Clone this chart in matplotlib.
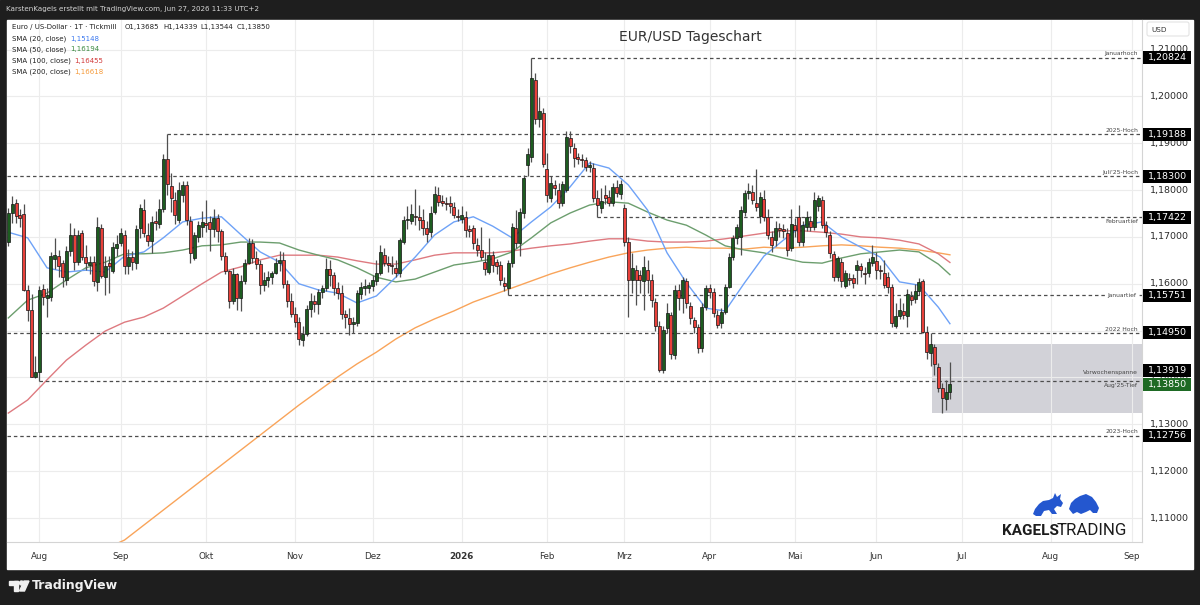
import numpy as np
import matplotlib
matplotlib.use("Agg")
import matplotlib.pyplot as plt
from matplotlib.patches import Rectangle, Polygon, FancyBboxPatch, Circle
import matplotlib.transforms as mtrans

plt.rcParams['font.family'] = ['DejaVu Sans']

# ---------------- data ----------------
first_date = '2025-07-22'

opens = [1.1690,1.1752,1.1772,1.1747,1.1748,1.1587,1.1544,1.1402,1.1412,1.1588,
 1.1569,1.1572,1.1652,1.1659,1.1644,1.1607,1.1670,1.1704,1.1647,1.1708,
 1.1657,1.1640,1.1647,1.1603,1.1720,1.1614,1.1644,1.1628,1.1676,1.1686,
 1.1704,1.1638,1.1658,1.1644,1.1718,1.1757,1.1704,1.1692,1.1735,1.1728,
 1.1760,1.1866,1.1809,1.1779,1.1736,1.1790,1.1811,1.1733,1.1655,1.1699,
 1.1721,1.1730,1.1731,1.1716,1.1740,1.1712,1.1659,1.1627,1.1563,1.1620,
 1.1569,1.1606,1.1645,1.1686,1.1655,1.1642,1.1598,1.1608,1.1615,1.1624,
 1.1645,1.1650,1.1600,1.1563,1.1536,1.1518,1.1481,1.1493,1.1547,1.1563,
 1.1557,1.1582,1.1590,1.1632,1.1618,1.1592,1.1580,1.1536,1.1527,1.1514,
 1.1516,1.1578,1.1590,1.1591,1.1595,1.1605,1.1622,1.1661,1.1644,1.1639,
 1.1633,1.1624,1.1690,1.1736,1.1733,1.1745,1.1743,1.1736,1.1720,1.1711,
 1.1754,1.1790,1.1777,1.1773,1.1772,1.1763,1.1745,1.1738,1.1743,1.1717,
 1.1718,1.1683,1.1672,1.1647,1.1626,1.1661,1.1647,1.1640,1.1601,1.1590,
 1.1644,1.1718,1.1686,1.1750,1.1853,1.1871,1.2035,1.1951,1.1964,1.1846,
 1.1783,1.1811,1.1800,1.1772,1.1800,1.1911,1.1889,1.1870,1.1866,1.1864,
 1.1850,1.1847,1.1782,1.1762,1.1790,1.1786,1.1772,1.1807,1.1791,1.1761,
 1.1690,1.1608,1.1629,1.1619,1.1605,1.1629,1.1608,1.1562,1.1509,1.1416,
 1.1505,1.1533,1.1448,1.1587,1.1569,1.1605,1.1553,1.1522,1.1508,1.1462,
 1.1551,1.1590,1.1583,1.1533,1.1516,1.1540,1.1594,1.1658,1.1697,1.1700,
 1.1754,1.1793,1.1795,1.1773,1.1745,1.1780,1.1743,1.1700,1.1693,1.1718,
 1.1716,1.1708,1.1676,1.1725,1.1743,1.1690,1.1722,1.1733,1.1722,1.1765,
 1.1778,1.1725,1.1704,1.1663,1.1615,1.1647,1.1596,1.1613,1.1612,1.1630,
 1.1637,1.1624,1.1624,1.1644,1.1649,1.1630,1.1622,1.1615,1.1594,1.1509,
 1.1532,1.1541,1.1532,1.1573,1.1567,1.1585,1.1605,1.1498,1.1452,1.1465,
 1.1423,1.1377,1.1355,1.13685]

highs = [1.1761,1.1788,1.1780,1.1760,1.1770,1.1598,1.1578,1.1446,1.1595,1.1600,
 1.1590,1.1667,1.1697,1.1672,1.1650,1.1680,1.1730,1.1718,1.1715,1.1715,
 1.1682,1.1660,1.1660,1.1742,1.1728,1.1660,1.1660,1.1690,1.1705,1.1720,
 1.1715,1.1675,1.1670,1.1725,1.1770,1.1780,1.1730,1.1745,1.1755,1.1780,
 1.1878,1.19188,1.1837,1.1795,1.1818,1.1820,1.1819,1.1745,1.1710,1.1735,
 1.1755,1.1778,1.1745,1.1760,1.1748,1.1716,1.1668,1.1630,1.1633,1.1624,
 1.1618,1.1652,1.1698,1.1695,1.1670,1.1650,1.1625,1.1627,1.1628,1.1654,
 1.1669,1.1668,1.1609,1.1580,1.1550,1.1530,1.1510,1.1555,1.1580,1.1577,
 1.1589,1.1598,1.1655,1.1650,1.1625,1.1604,1.1598,1.1543,1.1548,1.1530,
 1.1586,1.1603,1.1610,1.1603,1.1618,1.1650,1.1682,1.1677,1.1660,1.1660,
 1.1651,1.1698,1.1745,1.1765,1.1770,1.1802,1.1768,1.1760,1.1735,1.1765,
 1.1808,1.1806,1.1790,1.1786,1.1788,1.1775,1.1760,1.1765,1.1755,1.1725,
 1.1726,1.1698,1.1722,1.1668,1.1698,1.1670,1.1652,1.1648,1.1615,1.1650,
 1.1730,1.1758,1.1762,1.1832,1.1890,1.20824,1.2050,1.1998,1.1975,1.1880,
 1.1830,1.1822,1.1815,1.1820,1.1927,1.1927,1.1900,1.1880,1.1878,1.1870,
 1.1862,1.1858,1.1800,1.1805,1.1810,1.1800,1.1815,1.1822,1.1822,1.1770,
 1.1700,1.1665,1.1640,1.1630,1.1660,1.1650,1.1620,1.1570,1.1520,1.1510,
 1.1560,1.1540,1.1597,1.1600,1.1615,1.1612,1.1562,1.1530,1.1515,1.1560,
 1.1598,1.1600,1.1590,1.1545,1.1548,1.1600,1.1665,1.1705,1.1728,1.1765,
 1.1800,1.1815,1.1810,1.1846,1.1795,1.1800,1.1760,1.1712,1.1735,1.1730,
 1.1728,1.1720,1.1760,1.1740,1.1768,1.1735,1.1755,1.1745,1.1795,1.1790,
 1.1788,1.1735,1.1712,1.1670,1.1660,1.1655,1.1630,1.1622,1.1620,1.1650,
 1.1645,1.1635,1.1655,1.1683,1.1668,1.1640,1.1650,1.1625,1.1600,1.1560,
 1.1570,1.1560,1.1588,1.1585,1.1600,1.1613,1.1610,1.1510,1.1495,1.14716,
 1.1430,1.1388,1.1395,1.14339]

lows = [1.1680,1.1730,1.1730,1.1722,1.1585,1.1520,1.1400,1.1398,1.13919,1.1554,
 1.1530,1.1564,1.1632,1.1615,1.1594,1.1598,1.1660,1.1630,1.1640,1.1650,
 1.1630,1.1620,1.1596,1.1584,1.1612,1.1576,1.1580,1.1622,1.1660,1.1680,
 1.1620,1.1620,1.1630,1.1632,1.1697,1.1700,1.1680,1.1665,1.1715,1.1720,
 1.1754,1.1790,1.1754,1.1728,1.1730,1.1775,1.1725,1.1645,1.1650,1.1690,
 1.1700,1.1710,1.1669,1.1700,1.1690,1.1650,1.1620,1.1548,1.1557,1.1545,
 1.1542,1.1600,1.1642,1.1645,1.1632,1.1578,1.1585,1.1593,1.1600,1.1620,
 1.1628,1.1590,1.1550,1.1528,1.1508,1.1469,1.1468,1.1488,1.1530,1.1540,
 1.1535,1.1570,1.1585,1.1595,1.1575,1.1568,1.1525,1.1505,1.1491,1.1495,
 1.1510,1.1568,1.1575,1.1580,1.1585,1.1598,1.1618,1.1638,1.1625,1.1620,
 1.1615,1.1615,1.1685,1.1717,1.1728,1.1725,1.1715,1.1705,1.1690,1.1700,
 1.1748,1.1766,1.1765,1.1758,1.1752,1.1740,1.1735,1.1730,1.1700,1.1700,
 1.1675,1.1660,1.1650,1.1618,1.1620,1.1625,1.1620,1.1598,1.1585,1.15751,
 1.1635,1.1676,1.1660,1.1740,1.1830,1.1860,1.1940,1.1935,1.1850,1.1775,
 1.1775,1.1790,1.1762,1.1765,1.1795,1.1880,1.1850,1.1855,1.1850,1.1840,
 1.1838,1.1775,1.17422,1.1750,1.1770,1.1765,1.1765,1.1785,1.1780,1.1680,
 1.1530,1.1580,1.1555,1.1580,1.1544,1.1580,1.1550,1.1500,1.1412,1.1410,
 1.1495,1.1440,1.1440,1.1545,1.1537,1.1548,1.1515,1.1495,1.1452,1.1455,
 1.1545,1.1570,1.1530,1.1505,1.1505,1.1535,1.1590,1.1650,1.1685,1.1661,
 1.1745,1.1780,1.1770,1.1755,1.1730,1.1735,1.1695,1.1668,1.1680,1.1700,
 1.1698,1.1660,1.1670,1.1700,1.1680,1.1680,1.1712,1.1712,1.1715,1.1755,
 1.1718,1.1700,1.1655,1.1605,1.1605,1.1594,1.1590,1.1598,1.1590,1.1600,
 1.1615,1.1600,1.1615,1.1638,1.1610,1.1610,1.1590,1.1580,1.1508,1.1505,
 1.1525,1.1525,1.1508,1.1555,1.1560,1.1575,1.1495,1.1440,1.1425,1.1405,
 1.1370,1.1324,1.1330,1.13544]

closes = [1.1750,1.1770,1.1745,1.1741,1.1587,1.1544,1.1402,1.1412,1.1587,1.1571,
 1.1577,1.1659,1.1661,1.1638,1.1614,1.1671,1.1704,1.1647,1.1704,1.1658,
 1.1644,1.1647,1.1605,1.1722,1.1617,1.1637,1.1637,1.1679,1.1685,1.1709,
 1.1638,1.1658,1.1647,1.1717,1.1761,1.1708,1.1692,1.1731,1.1730,1.1760,
 1.1866,1.1812,1.1783,1.1747,1.1800,1.1811,1.1736,1.1665,1.1704,1.1726,
 1.1731,1.1726,1.1716,1.1740,1.1712,1.1659,1.1627,1.1563,1.1621,1.1569,
 1.1606,1.1645,1.1686,1.1655,1.1642,1.1598,1.1608,1.1615,1.1624,1.1645,
 1.1650,1.1600,1.1563,1.1536,1.1518,1.1482,1.1493,1.1547,1.1563,1.1557,
 1.1582,1.1590,1.1632,1.1618,1.1592,1.1580,1.1536,1.1528,1.1514,1.1519,
 1.1580,1.1594,1.1596,1.1598,1.1608,1.1622,1.1668,1.1644,1.1640,1.1637,
 1.1624,1.1693,1.1736,1.1738,1.1749,1.1743,1.1736,1.1720,1.1706,1.1750,
 1.1792,1.1775,1.1773,1.1770,1.1766,1.1747,1.1742,1.1747,1.1715,1.1713,
 1.1686,1.1672,1.1658,1.1632,1.1661,1.1640,1.1637,1.1608,1.1596,1.1644,
 1.1722,1.1686,1.1754,1.1825,1.1878,1.2039,1.1951,1.1969,1.1856,1.1789,
 1.1816,1.1804,1.1772,1.1813,1.1914,1.1893,1.1868,1.1866,1.1864,1.1850,
 1.1853,1.1782,1.1768,1.1777,1.1782,1.1772,1.1807,1.1793,1.1813,1.1690,
 1.1608,1.1633,1.1608,1.1608,1.1635,1.1608,1.1565,1.1509,1.1416,1.1502,
 1.1537,1.1451,1.1587,1.1569,1.1608,1.1558,1.1526,1.1508,1.1462,1.1551,
 1.1590,1.1583,1.1537,1.1512,1.1540,1.1594,1.1658,1.1697,1.1722,1.1757,
 1.1793,1.1797,1.1779,1.1764,1.1786,1.1743,1.1704,1.1683,1.1718,1.1715,
 1.1713,1.1672,1.1727,1.1715,1.1690,1.1725,1.1743,1.1722,1.1778,1.1784,
 1.1725,1.1711,1.1665,1.1615,1.1654,1.1605,1.1622,1.1607,1.1601,1.1640,
 1.1630,1.1621,1.1647,1.1658,1.1630,1.1627,1.1597,1.1594,1.1516,1.1532,
 1.1544,1.1534,1.1578,1.1566,1.1585,1.1603,1.1498,1.1455,1.1472,1.1428,
 1.1378,1.1356,1.1369,1.13850]

sma_idx = [0,5,10,15,20,25,30,35,40,45,50,55,60,65,70,75,80,85,90,95,
           100,105,110,115,120,125,130,135,140,145,150,155,160,165,170,175,
           180,185,190,195,200,205,210,215,220,225,230,235,240,243]
sma20 = [1.1710,1.1698,1.1634,1.1625,1.1629,1.1625,1.1659,1.1668,1.1698,1.1732,
         1.1740,1.1743,1.1705,1.1668,1.1646,1.1600,1.1587,1.1580,1.1559,1.1574,
         1.1614,1.1657,1.1704,1.1732,1.1743,1.1723,1.1698,1.1732,1.1764,1.1807,
         1.1858,1.1847,1.1811,1.1757,1.1666,1.1602,1.1548,1.1542,1.1602,1.1659,
         1.1693,1.1725,1.1732,1.1700,1.1678,1.1657,1.1604,1.1597,1.1550,1.15148]
sma50 = [1.1527,1.1565,1.1580,1.1608,1.1634,1.1646,1.1664,1.1664,1.1666,1.1672,
         1.1681,1.1683,1.1689,1.1689,1.1687,1.1672,1.1661,1.1651,1.1634,1.1614,
         1.1604,1.1610,1.1625,1.1640,1.1646,1.1653,1.1668,1.1698,1.1730,1.1751,
         1.1768,1.1775,1.1772,1.1753,1.1736,1.1725,1.1704,1.1681,1.1672,1.1666,
         1.1655,1.1646,1.1644,1.1655,1.1664,1.1668,1.1672,1.1668,1.1642,1.16194]
sma100 = [1.1324,1.1352,1.1395,1.1437,1.1469,1.1499,1.1518,1.1529,1.1548,1.1574,
          1.1600,1.1625,1.1636,1.1651,1.1661,1.1661,1.1661,1.1657,1.1649,1.1642,
          1.1642,1.1651,1.1661,1.1666,1.1666,1.1666,1.1670,1.1676,1.1681,1.1685,
          1.1691,1.1696,1.1696,1.1691,1.1689,1.1689,1.1691,1.1696,1.1702,1.1708,
          1.1713,1.1713,1.1710,1.1706,1.1700,1.1698,1.1693,1.1685,1.1664,1.16455]
sma200 = [1.0904,1.0929,1.0957,1.0985,1.1010,1.1034,1.1053,1.1085,1.1117,1.1149,
          1.1181,1.1213,1.1245,1.1277,1.1309,1.1341,1.1371,1.1401,1.1429,1.1454,
          1.1482,1.1506,1.1525,1.1542,1.1561,1.1576,1.1591,1.1606,1.1621,1.1634,
          1.1646,1.1657,1.1666,1.1672,1.1676,1.1678,1.1676,1.1676,1.1674,1.1678,
          1.1676,1.1678,1.1681,1.1683,1.1681,1.1678,1.1676,1.1672,1.1666,1.16618]

month_labels = ['Aug', 'Sep', 'Okt', 'Nov', 'Dez', '2026', 'Feb', 'Mrz', 'Apr',
                'Mai', 'Jun', 'Jul', 'Aug', 'Sep']
month_dates = ['2025-08-01', '2025-09-01', '2025-10-01', '2025-11-01', '2025-12-01',
               '2026-01-01', '2026-02-01', '2026-03-01', '2026-04-01', '2026-05-01',
               '2026-06-01', '2026-07-01', '2026-08-01', '2026-09-01']

level_names = ['Januarhoch', '2025-Hoch', "Juli'25-Hoch", 'Februartief', 'Januartief',
               '2022 Hoch', "Aug'25-Tief", '2023-Hoch']
level_values = [1.20824, 1.19188, 1.18300, 1.17422, 1.15751, 1.14950, 1.13919, 1.12756]
level_start = [135, 41, None, 152, 129, None, 8, None]
level_text_pos = ['above', 'above', 'above', 'below', 'on', 'above', 'below', 'above']

price_ticks = [1.11, 1.12, 1.13, 1.14, 1.15, 1.16, 1.17, 1.18, 1.19, 1.20, 1.21]
week_start = 239   # first bar of the last week (range box)

title = 'EUR/USD Tageschart'
header = 'KarstenKagels erstellt mit TradingView.com, Jun 27, 2026 11:33 UTC+2'

# ---------------- figure layout ----------------
W, HH = 1200, 605
fig = plt.figure(figsize=(12, 6.05), dpi=100)

def fr(x0, y0, x1, y1):
    return [x0 / W, 1 - y1 / HH, (x1 - x0) / W, (y1 - y0) / HH]

bg = fig.add_axes([0, 0, 1, 1], zorder=0)
bg.set_xlim(0, W); bg.set_ylim(HH, 0); bg.axis('off')
bg.add_patch(Rectangle((0, 0), W, HH, color='#1e1e1e'))
bg.add_patch(Rectangle((7, 20), 1186, 549, color='white'))

PX0, PY0, PX1, PY1 = 7, 20, 1142, 542
ax = fig.add_axes(fr(PX0, PY0, PX1, PY1), zorder=2)
ax.set_facecolor('none')
ylo, yhi = 1.10488, 1.21630
ax.set_ylim(ylo, yhi)
n = len(closes)
xmin, xmax = -0.335, 292.57
ax.set_xlim(xmin, xmax)
ppx = (yhi - ylo) / (PY1 - PY0)   # price per pixel

O = np.array(opens); Hi = np.array(highs); Lo = np.array(lows); C = np.array(closes)
xi = np.arange(n)

# grid
mpos = [int(np.busday_count(first_date, d)) for d in month_dates]
ax.set_xticks(mpos)
ax.set_xticklabels(month_labels)
ax.set_yticks(price_ticks)
ax.set_yticklabels([])
ax.grid(True, color='#ececec', lw=0.8, zorder=0)
ax.tick_params(axis='x', length=0, pad=7.5, labelsize=6.3, labelcolor='#333333')
ax.tick_params(axis='y', length=0)
for t in ax.get_xticklabels():
    if t.get_text() == '2026':
        t.set_fontweight('bold')
for s in ['top', 'left']:
    ax.spines[s].set_visible(False)
ax.spines['bottom'].set_color('#d4d4d4'); ax.spines['bottom'].set_linewidth(0.8)
ax.spines['right'].set_color('#d4d4d4'); ax.spines['right'].set_linewidth(0.8)

# previous-week range box
rlo = min(lows[week_start:]); rhi = max(highs[week_start:])
ax.add_patch(Rectangle((week_start - 0.55, rlo), xmax - week_start + 0.55, rhi - rlo,
                       facecolor='#d2d2d8', edgecolor='none', zorder=1))

# SMAs
ax.plot(sma_idx, sma200, color='#f9a45a', lw=1.0, zorder=2)
ax.plot(sma_idx, sma100, color='#de7a80', lw=1.0, zorder=2)
ax.plot(sma_idx, sma50, color='#6c9e6e', lw=1.0, zorder=2)
ax.plot(sma_idx, sma20, color='#6ea2f7', lw=1.0, zorder=2)

# level lines
dash = (0, (2.8, 2.3))
for name, val, st, pos in zip(level_names, level_values, level_start, level_text_pos):
    x0 = xmin if st is None else st
    ax.hlines(val, x0, xmax, colors='#4d4d4d', linestyles=[dash], lw=0.9, zorder=3)
    tr = ax.get_yaxis_transform()
    xa = 1 - 4.0 / (PX1 - PX0)
    if pos == 'above':
        t = mtrans.offset_copy(tr, fig=fig, x=0, y=1.0, units='points')
        ax.text(xa, val, name, transform=t, ha='right', va='bottom', fontsize=4.3,
                color='#444444', zorder=6)
    elif pos == 'below':
        t = mtrans.offset_copy(tr, fig=fig, x=0, y=-1.5, units='points')
        ax.text(xa, val, name, transform=t, ha='right', va='top', fontsize=4.3,
                color='#444444', zorder=6)
    else:
        ax.text(1 - 6.0 / (PX1 - PX0), val, name, transform=tr, ha='right', va='center',
                fontsize=4.3, color='#444444', zorder=6,
                bbox=dict(facecolor='white', edgecolor='none', pad=0.6))

tmid = mtrans.offset_copy(ax.get_yaxis_transform(), fig=fig, x=0, y=4.5, units='points')
ax.text(1 - 4.0 / (PX1 - PX0), (rlo + rhi) / 2, 'Vorwochenspanne', transform=tmid,
        ha='right', va='center', fontsize=4.3, color='#444444', zorder=6)

# candles
up = C >= O
ax.vlines(xi, Lo, Hi, color='#4f4f4f', lw=0.9, zorder=4)
bw = 0.76
ax.bar(xi[up], np.maximum(C - O, 0.00004)[up], bottom=O[up], width=bw, color='#1d5c20',
       edgecolor='#141414', lw=0.5, zorder=5)
ax.bar(xi[~up], np.maximum(O - C, 0.00004)[~up], bottom=C[~up], width=bw, color='#e8403a',
       edgecolor='#141414', lw=0.5, zorder=5)

# ---------------- price axis panel ----------------
axp = fig.add_axes(fr(PX1, PY0, 1193, PY1), zorder=2)
axp.set_facecolor('none')
axp.set_ylim(ylo, yhi); axp.set_xlim(0, 51)
axp.axis('off')

def fmt(v):
    return f'{v:.5f}'.replace('.', ',')

for p in price_ticks:
    axp.text(8, p, fmt(p), fontsize=6.8, color='#2a2a2a', va='center', ha='left')

hb = 6.5 * ppx
box_vals = list(level_values)
box_pos = list(level_values)
box_pos[level_names.index("Aug'25-Tief")] = level_values[level_names.index("Aug'25-Tief")] + 11 * ppx
for v, yp in zip(box_vals, box_pos):
    axp.add_patch(Rectangle((1, yp - hb), 48, 2 * hb, facecolor='black', edgecolor='none', zorder=3))
    axp.text(6, yp, fmt(v), fontsize=6.8, color='white', va='center', ha='left', zorder=4)
last = closes[-1]
axp.add_patch(Rectangle((1, last - hb), 48, 2 * hb, facecolor='#1e6a24', edgecolor='none', zorder=3))
axp.text(6, last, fmt(last), fontsize=6.8, color='white', va='center', ha='left', zorder=4)

# ---------------- overlay decorations ----------------
ov = fig.add_axes([0, 0, 1, 1], zorder=5)
ov.set_xlim(0, W); ov.set_ylim(HH, 0); ov.axis('off'); ov.set_facecolor('none')

ov.text(6, 9.5, header, fontsize=5.1, color='#d6d6d6', va='center', ha='left')
ov.text(690, 37, title, fontsize=10, color='#333333', va='center', ha='center')

ov.add_patch(FancyBboxPatch((1147, 22), 42, 14, boxstyle='round,pad=0,rounding_size=2',
                            facecolor='white', edgecolor='#e3e3e3', lw=0.8))
ov.text(1151, 29.5, 'USD', fontsize=5.2, color='#333333', va='center', ha='left')

leg_y = [27, 38.5, 49.5, 61, 72]
ov.text(12, leg_y[0], 'Euro / US-Dollar · 1T · Tickmill', fontsize=5.0, color='#222222', va='center')
for xx, s in zip([125, 163, 200, 237], ['O1,13685', 'H1,14339', 'L1,13544', 'C1,13850']):
    ov.text(xx, leg_y[0], s, fontsize=5.0, color='#222222', va='center')
sma_names = ['SMA (20, close)', 'SMA (50, close)', 'SMA (100, close)', 'SMA (200, close)']
sma_last = [sma20[-1], sma50[-1], sma100[-1], sma200[-1]]
sma_col = ['#3b78f0', '#3a8a3f', '#d23a3a', '#f59a3a']
sma_vx = [70, 70, 74, 74]
for k in range(4):
    ov.text(12, leg_y[k + 1], sma_names[k], fontsize=5.0, color='#222222', va='center')
    ov.text(sma_vx[k], leg_y[k + 1], fmt(sma_last[k]), fontsize=5.0, color=sma_col[k], va='center')

# Kagels Trading logo
ov.text(1059, 535, 'KAGELS', fontsize=11, fontweight='bold', color='#1c1c1c', va='baseline',
        ha='right', family=['Roboto', 'DejaVu Sans'])
ov.text(1127, 535, 'TRADING', fontsize=12.2, color='#1c1c1c', va='baseline', ha='right',
        family=['Roboto', 'DejaVu Sans'])
bull = [(1033, 514), (1035, 509), (1039, 504), (1043, 501), (1049, 500), (1053, 498), (1055, 493),
        (1057, 497), (1061, 494), (1060, 499), (1063, 503), (1061, 507), (1057, 506), (1054, 509),
        (1057, 514), (1052, 514), (1049, 510), (1044, 511), (1041, 516), (1036, 516)]
bear = [(1069, 509), (1071, 503), (1075, 499), (1080, 496), (1086, 494), (1092, 497), (1096, 502),
        (1099, 508), (1097, 513), (1093, 513), (1090, 510), (1086, 512), (1081, 514), (1077, 512),
        (1073, 514)]
ov.add_patch(Polygon(bull, closed=True, facecolor='#2457cf', edgecolor='none'))
ov.add_patch(Polygon(bear, closed=True, facecolor='#2457cf', edgecolor='none'))

# TradingView footer
ov.add_patch(Rectangle((9, 581), 9, 3.5, color='#f0f0f0'))
ov.add_patch(Rectangle((13.5, 581), 4.5, 10, color='#f0f0f0'))
ov.add_patch(Circle((21.5, 583), 2.0, color='#f0f0f0'))
ov.add_patch(Polygon([(24, 581), (29, 581), (24.5, 591), (19.5, 591)], closed=True, color='#f0f0f0'))
ov.text(32, 586, 'TradingView', fontsize=9, fontweight='bold', color='#f0f0f0', va='center', ha='left')

fig.savefig('out.png', dpi=100)
